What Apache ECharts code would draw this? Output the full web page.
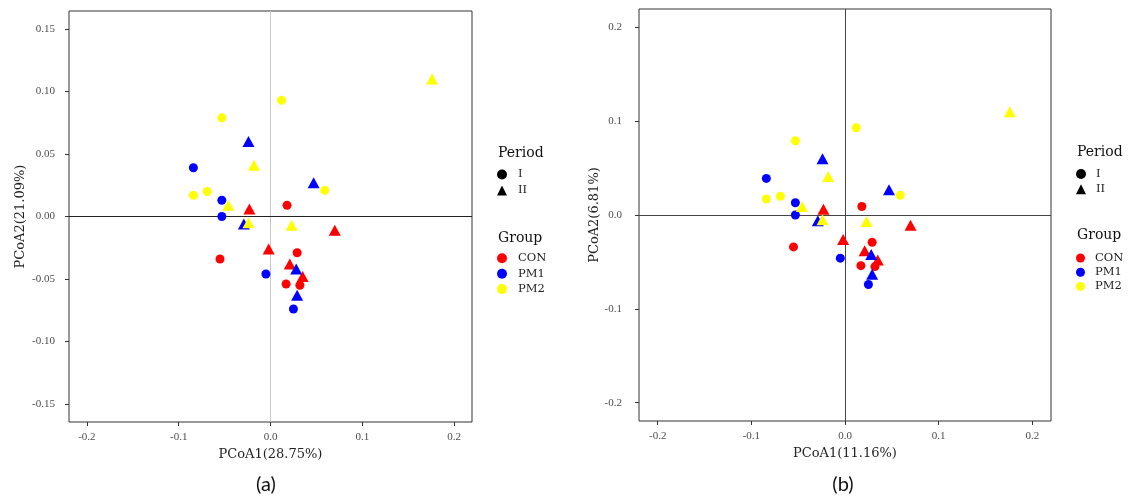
<!DOCTYPE html>
<html>
<head>
<meta charset="utf-8">
<script src="https://cdn.jsdelivr.net/npm/echarts@6/dist/echarts.min.js"></script>
<style>
  html, body { margin: 0; padding: 0; background: #fff; }
  #chart { width: 1131px; height: 502px; }
</style>
</head>
<body>
<div id="chart"></div>
<script>
// PCoA scores, [PCoA1, PCoA2] per sample
const CON_I = [[0.018, 0.009], [0.029, -0.029], [-0.055, -0.034], [0.017, -0.054], [0.032, -0.055]];
const CON_II = [[-0.023, 0.006], [0.070, -0.011], [-0.002, -0.026], [0.021, -0.038], [0.035, -0.048]];
const PM1_I = [[-0.084, 0.039], [-0.053, 0.013], [-0.053, 0.000], [-0.005, -0.046], [0.025, -0.074]];
const PM1_II = [[-0.024, 0.060], [0.047, 0.027], [-0.029, -0.006], [0.028, -0.042], [0.029, -0.063]];
const PM2_I = [[0.012, 0.093], [-0.053, 0.079], [0.059, 0.021], [-0.084, 0.017], [-0.069, 0.020]];
const PM2_II = [[0.176, 0.110], [-0.018, 0.041], [-0.046, 0.009], [-0.024, -0.005], [0.023, -0.007]];

const groups = ["CON", "PM1", "PM2"];
const groupColors = ["#ff0000", "#0000ff", "#ffff00"];
const periods = ["I", "II"];

const xTicks = [-0.2, -0.1, 0, 0.1, 0.2];
const yTicksA = [-0.15, -0.1, -0.05, 0, 0.05, 0.1, 0.15];
const yTicksB = [-0.2, -0.1, 0, 0.1, 0.2];

const xTitles = ["PCoA1(28.75%)", "PCoA1(11.16%)"];
const yTitles = ["PCoA2(21.09%)", "PCoA2(6.81%)"];
const panelLabels = ["(a)", "(b)"];

const dataSets = [[CON_I, CON_II], [PM1_I, PM1_II], [PM2_I, PM2_II]];

const serif = "'Liberation Serif', serif";
const wideSerif = "'DejaVu Serif', serif";
const tickColor = "#4d4d4d";

function xAxis(i) {
    return {
        type: "value",
        gridIndex: i,
        min: i === 0 ? -0.2195 : -0.22,
        max: i === 0 ? 0.2195 : 0.22,
        axisLine: { show: false, onZero: false },
        splitLine: { show: false },
        axisTick: { show: true, length: 4, customValues: xTicks, lineStyle: { color: "#333" } },
        axisLabel: {
            customValues: xTicks,
            formatter: v => v.toFixed(1),
            color: tickColor, fontFamily: serif, fontSize: 11, margin: 10
        },
        name: xTitles[i],
        nameLocation: "middle",
        nameGap: 26,
        nameTextStyle: { fontFamily: wideSerif, fontSize: 13, color: "#222" }
    };
}

function yAxis(i) {
    const ticks = i === 0 ? yTicksA : yTicksB;
    return {
        type: "value",
        gridIndex: i,
        min: i === 0 ? -0.1645 : -0.2195,
        max: i === 0 ? 0.1645 : 0.2195,
        axisLine: { show: false, onZero: false },
        splitLine: { show: false },
        axisTick: { show: true, length: 4, customValues: ticks, lineStyle: { color: "#333" } },
        axisLabel: {
            customValues: ticks,
            formatter: v => v.toFixed(i === 0 ? 2 : 1),
            color: tickColor, fontFamily: serif, fontSize: 11, margin: i === 0 ? 14 : 17
        },
        name: yTitles[i],
        nameLocation: "middle",
        nameGap: i === 0 ? 42 : 37,
        nameTextStyle: { fontFamily: wideSerif, fontSize: 13, color: "#222" }
    };
}

// zero reference lines: left panel has a light vertical line, right panel both dark
const zeroLines = [
    [{ xAxis: 0, lineStyle: { color: "#c8c8c8" } }, { yAxis: 0, lineStyle: { color: "#222" } }],
    [{ xAxis: 0, lineStyle: { color: "#444" } }, { yAxis: 0, lineStyle: { color: "#444" } }]
];

const series = [];
[0, 1].forEach(p => {
    groups.forEach((g, gi) => {
        periods.forEach((per, pi) => {
            const s = {
                name: g + "-" + per,
                type: "scatter",
                xAxisIndex: p,
                yAxisIndex: p,
                symbol: pi === 0 ? "circle" : "triangle",
                symbolSize: pi === 0 ? 9 : [12, 11],
                itemStyle: { color: groupColors[gi], opacity: 1 },
                data: dataSets[gi][pi],
                z: 3
            };
            if (gi === 0 && pi === 0) {
                s.markLine = {
                    silent: true,
                    symbol: ["none", "none"],
                    label: { show: false },
                    lineStyle: { type: "solid", width: 1 },
                    data: zeroLines[p],
                    z: 1
                };
            }
            series.push(s);
        });
    });
});

// empty series that only feed the legends
series.push({ name: "I", type: "scatter", symbol: "circle", itemStyle: { color: "#000" }, data: [] });
series.push({ name: "II", type: "scatter", symbol: "triangle", itemStyle: { color: "#000" }, data: [] });
groups.forEach((g, gi) => {
    series.push({ name: g, type: "scatter", symbol: "circle", itemStyle: { color: groupColors[gi] }, data: [] });
});

function legend(left, top, names, icons, size, gap, pad) {
    return {
        left, top,
        orient: "vertical",
        padding: 0,
        itemWidth: size,
        itemHeight: size,
        itemGap: gap,
        selectedMode: false,
        data: names.map((n, k) => ({ name: n, icon: icons[k], itemStyle: { opacity: 1 } })),
        textStyle: { fontFamily: wideSerif, fontSize: 11.5, lineHeight: size, color: "#222", padding: [0, 0, 0, pad] }
    };
}

function headText(text, left, top) {
    return {
        text, left, top, padding: 0,
        textStyle: { fontFamily: wideSerif, fontSize: 14, fontWeight: "normal", color: "#111" }
    };
}

const option = {
    animation: false,
    backgroundColor: "#fff",
    grid: [
        { left: 69, top: 11, width: 403, height: 411, show: true, borderColor: "#333", borderWidth: 1, backgroundColor: "#fff" },
        { left: 639, top: 9, width: 412, height: 412, show: true, borderColor: "#333", borderWidth: 1, backgroundColor: "#fff" }
    ],
    xAxis: [xAxis(0), xAxis(1)],
    yAxis: [yAxis(0), yAxis(1)],
    title: [
        headText("Period", 498, 146),
        headText("Group", 498, 231),
        headText("Period", 1077, 145),
        headText("Group", 1077, 228)
    ],
    legend: [
        legend(497, 168.5, periods, ["circle", "triangle"], 10, 4, 6),
        legend(497, 252.3, groups, ["circle", "circle", "circle"], 10, 3.4, 6),
        legend(1076, 168, periods, ["circle", "triangle"], 10, 3.3, 5),
        legend(1076, 252, groups, ["circle", "circle", "circle"], 9, 2.2, 5)
    ],
    graphic: panelLabels.map((t, k) => ({
        type: "text",
        x: k === 0 ? 266 : 843,
        y: 485,
        style: {
            text: t,
            font: "20px Lato, sans-serif",
            fill: "#111",
            align: "center",
            verticalAlign: "middle",
            textAlign: "center",
            textVerticalAlign: "middle"
        }
    })),
    series
};

const chart = echarts.init(document.getElementById("chart"));
chart.setOption(option);
</script>
</body>
</html>
